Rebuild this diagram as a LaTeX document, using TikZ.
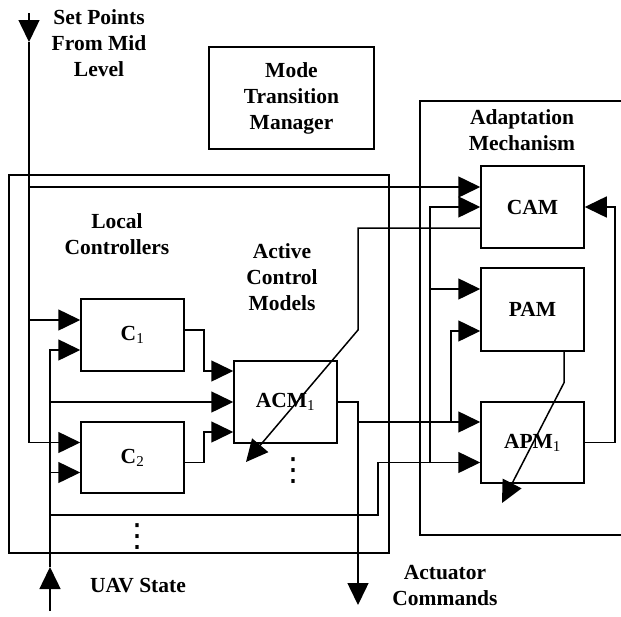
\documentclass[tikz,border=0pt]{standalone}
\usepackage{fontspec}
\setmainfont{Liberation Serif}
\newfontfamily\symfont{DejaVu Sans}
\usetikzlibrary{arrows.meta, positioning}

\begin{document}
\begin{tikzpicture}[x=1pt, y=-1pt, line width=1.5pt,
      every node/.style={font=\fontsize{21.5}{26}\selectfont\bfseries},
      blk/.style={draw, inner sep=0pt, minimum width=103pt, minimum height=82pt},
      caption/.style={align=center},
      dotcol/.style={inner sep=0pt, font=\fontsize{32}{32}\symfont},
      arr/.style={-{Triangle[length=22pt, width=21pt]}},
    ]
      \useasboundingbox (0,0) rectangle (621,616);

      % containers
      \node[blk, minimum width=380pt, minimum height=378pt] (lcbox) at (199,364) {};
      \draw (621,101) -| (420,535) -- (621,535);

      % blocks
      \node[blk, minimum width=165pt, minimum height=102pt, align=center] (mtm) at (291.5,98) {Mode\\Transition\\Manager};
      \node[blk, minimum height=72pt] (c1) at (132.5,335) {C\textsubscript{\mdseries 1}};
      \node[blk, minimum height=71pt] (c2) at (132.5,457.5) {C\textsubscript{\mdseries 2}};
      \node[blk] (acm) at (285.5,402) {ACM\textsubscript{\mdseries 1}};
      \node[blk] (cam) at (532.5,207) {CAM};
      \node[blk, minimum height=83pt] (pam) at (532.5,309.5) {PAM};
      \node[blk, minimum height=81pt] (apm) at (532.5,442.5) {APM\textsubscript{\mdseries 1}};

      % captions
      \node[caption] (setpts) at (99,43) {Set Points\\From Mid\\Level};
      \node[caption] (lctl) at (117,234.5) {Local\\Controllers};
      \node[caption] (actl) at (282,277) {Active\\Control\\Models};
      \node[caption] (adapt) at (522,130.5) {Adaptation\\Mechanism};
      \node[caption] (uav) at (138,586) {UAV State};
      \node[caption] (actcmd) at (445,585) {Actuator\\Commands};
      \node[dotcol] (dots1) at (293,471) {⋮};
      \node[dotcol] (dots2) at (137,537) {⋮};

      % junction points
      \coordinate (sptop) at (29,13);
      \coordinate (spmark) at (29,42);
      \coordinate (uavbot) at (50,611);
      \coordinate (uavmark) at (50,567);
      \coordinate (ujog) at (378,515);
      \coordinate (abus) at (430,463);
      \coordinate (abranch) at (358,422);
      \coordinate (pbranch) at (451,422);
      \coordinate (actend) at (358,605);
      \coordinate (camjog) at (358,330);
      \coordinate (acmtip) at (246,462);
      \coordinate (apmtip) at (502,503);

      % set points
      \draw[arr] (sptop) -- (spmark);
      \draw[arr] (spmark) |- ([yshift=20pt]cam.west);
      \draw[arr] (spmark) |- ([yshift=15pt]c1.west);
      \draw[arr] (spmark) |- ([yshift=15pt]c2.west);

      % UAV state
      \draw[arr] (uavbot) -- (uavmark);
      \draw[arr] (uavmark) |- ([yshift=-15pt]c1.west);
      \draw[arr] (uavmark) |- (acm.west);
      \draw[arr] (uavmark) |- ([yshift=-15pt]c2.west);
      \draw[arr] (uavmark) |- (ujog) |- ([yshift=-20pt]apm.west);
      \draw[arr] (abus) |- (cam.west);
      \draw[arr] (abus) |- ([yshift=20.5pt]pam.west);

      % controllers to models
      \draw[arr] ([yshift=5pt]c1.east) -- ++(19,0) |- ([yshift=31pt]acm.west);
      \draw[arr] ([yshift=-5pt]c2.east) -- ++(19,0) |- ([yshift=-30pt]acm.west);

      % actuator commands
      \draw[arr] (acm.east) -| (actend);
      \draw[arr] (abranch) -- (abranch -| apm.west);
      \draw[arr] (pbranch) |- ([yshift=-21.5pt]pam.west);

      % adaptation
      \draw[arr] ([yshift=-21pt]cam.west) -| (camjog) -- (acmtip);
      \draw[arr] ([xshift=31.5pt]pam.south) -- ++(0,31) -- (apmtip);
      \draw[arr] (apm.east) -- ++(30,0) |- (cam.east);
    \end{tikzpicture}
\end{document}
